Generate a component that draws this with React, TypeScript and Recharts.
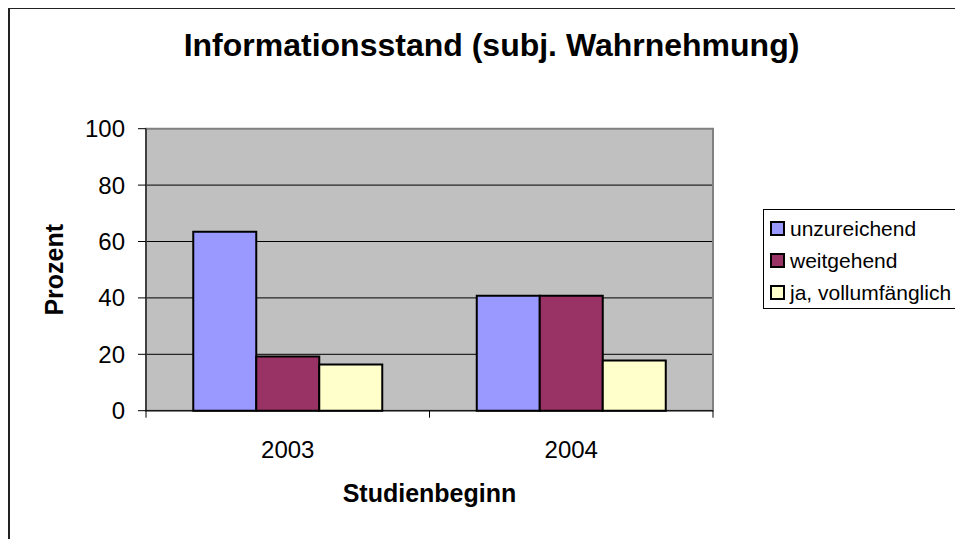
import React from 'react';
import {
  BarChart,
  Bar,
  XAxis,
  YAxis,
  CartesianGrid,
  Legend,
  ReferenceArea,
} from 'recharts';

const categories = ['2003', '2004'];
const unzureichend = [63.5, 40.8];
const weitgehend = [19.2, 40.8];
const vollumfaenglich = [16.4, 17.8];
const seriesNames = ['unzureichend', 'weitgehend', 'ja, vollumfänglich'];
const seriesColors = ['#9999FF', '#993366', '#FFFFCC'];
const yTicks = [0, 20, 40, 60, 80, 100];
const gridValues = [20, 40, 60, 80];

const data = categories.map((year, i) => ({
  year,
  s0: unzureichend[i],
  s1: weitgehend[i],
  s2: vollumfaenglich[i],
}));

const FONT = '"Liberation Sans", Arial, sans-serif';

// category ticks drawn on the band borders, like the old spreadsheet charts
const YearTick = (props: any) => {
  const { x, y, payload, index, visibleTicksCount } = props;
  const half = payload.offset ?? 141.75;
  const axisY = y - 30;
  return (
    <g>
      <line x1={x - half} x2={x - half} y1={axisY} y2={axisY + 7} stroke="#000" />
      {index === visibleTicksCount - 1 && (
        <line x1={x + half} x2={x + half} y1={axisY} y2={axisY + 7} stroke="#000" />
      )}
      <text x={x} y={y} dy="0.71em" textAnchor="middle" fontSize={24} fill="#000" fontFamily={FONT}>
        {payload.value}
      </text>
    </g>
  );
};

const YTitle = (props: any) => {
  const { viewBox } = props;
  const cx = viewBox.x + 52.7;
  const cy = viewBox.y + viewBox.height / 2;
  return (
    <text
      x={cx}
      y={cy}
      transform={`rotate(-90, ${cx}, ${cy})`}
      textAnchor="middle"
      fontSize={25}
      fontWeight="bold"
      fill="#000"
      fontFamily={FONT}
    >
      Prozent
    </text>
  );
};

const XTitle = (props: any) => {
  const { viewBox } = props;
  return (
    <text
      x={viewBox.x + viewBox.width / 2}
      y={viewBox.y + 91}
      textAnchor="middle"
      fontSize={25}
      fontWeight="bold"
      fill="#000"
      fontFamily={FONT}
    >
      Studienbeginn
    </text>
  );
};

// legend kept in series order (recharts would sort it by name)
const LegendBox = () => (
  <div
    style={{
      width: 199,
      height: 100,
      boxSizing: 'border-box',
      border: '1px solid #000',
      background: '#fff',
      paddingTop: 3,
      paddingLeft: 6,
      fontFamily: FONT,
    }}
  >
    {seriesNames.map((name, i) => (
      <div key={name} style={{ display: 'flex', alignItems: 'center', height: 32 }}>
        <span
          style={{
            width: 15,
            height: 15,
            boxSizing: 'border-box',
            border: '2px solid #000',
            background: seriesColors[i],
            marginRight: 5,
            flex: 'none',
          }}
        />
        <span style={{ fontSize: 21, color: '#000', whiteSpace: 'nowrap' }}>{name}</span>
      </div>
    ))}
  </div>
);

export default function App() {
  return (
    <div
      style={{
        position: 'relative',
        top: -2,
        width: 955,
        height: 533,
        overflow: 'hidden',
        fontFamily: FONT,
        background: '#fff',
      }}
    >
      {/* chart frame: only its top and left edges fall inside the picture */}
      <div style={{ position: 'absolute', left: 0, top: 0, width: 955, height: 3, background: '#222' }} />
      <div style={{ position: 'absolute', left: 0, top: 0, width: 2, height: 533, background: '#222' }} />
      <div
        style={{
          position: 'absolute',
          left: 483.5,
          top: 22.9,
          transform: 'translateX(-50%)',
          whiteSpace: 'nowrap',
          fontSize: 32,
          lineHeight: '32px',
          fontWeight: 'bold',
          color: '#000',
        }}
      >
        Informationsstand (subj. Wahrnehmung)
      </div>
      <div style={{ position: 'absolute', left: 2, top: 2 }}>
        <BarChart
          width={953}
          height={531}
          data={data}
          margin={{ top: 120.7, right: 250, left: 0, bottom: 28.3 }}
          barCategoryGap="16.67%"
          barGap={0}
        >
          <CartesianGrid
            vertical={false}
            horizontalValues={gridValues}
            stroke="#000"
            fill="#C0C0C0"
            fillOpacity={1}
          />
          <ReferenceArea y1={0} y2={100} fill="none" stroke="#808080" strokeWidth={2} />
          <XAxis
            dataKey="year"
            height={100}
            tickLine={false}
            tickSize={0}
            tickMargin={30}
            axisLine={{ stroke: '#000' }}
            tick={<YearTick />}
            label={<XTitle />}
          />
          <YAxis
            width={136}
            domain={[0, 100]}
            ticks={yTicks}
            tickSize={8}
            tickMargin={13}
            axisLine={{ stroke: '#000' }}
            tickLine={{ stroke: '#000' }}
            tick={{ fontSize: 24, fill: '#000', fontFamily: FONT }}
            label={<YTitle />}
          />
          <Legend
            layout="vertical"
            align="center"
            verticalAlign="middle"
            content={<LegendBox />}
            wrapperStyle={{ left: 753, top: 200.7, width: 199, height: 100 }}
          />
          <Bar dataKey="s0" name={seriesNames[0]} fill={seriesColors[0]} stroke="#000" strokeWidth={2} isAnimationActive={false} />
          <Bar dataKey="s1" name={seriesNames[1]} fill={seriesColors[1]} stroke="#000" strokeWidth={2} isAnimationActive={false} />
          <Bar dataKey="s2" name={seriesNames[2]} fill={seriesColors[2]} stroke="#000" strokeWidth={2} isAnimationActive={false} />
        </BarChart>
      </div>
    </div>
  );
}
